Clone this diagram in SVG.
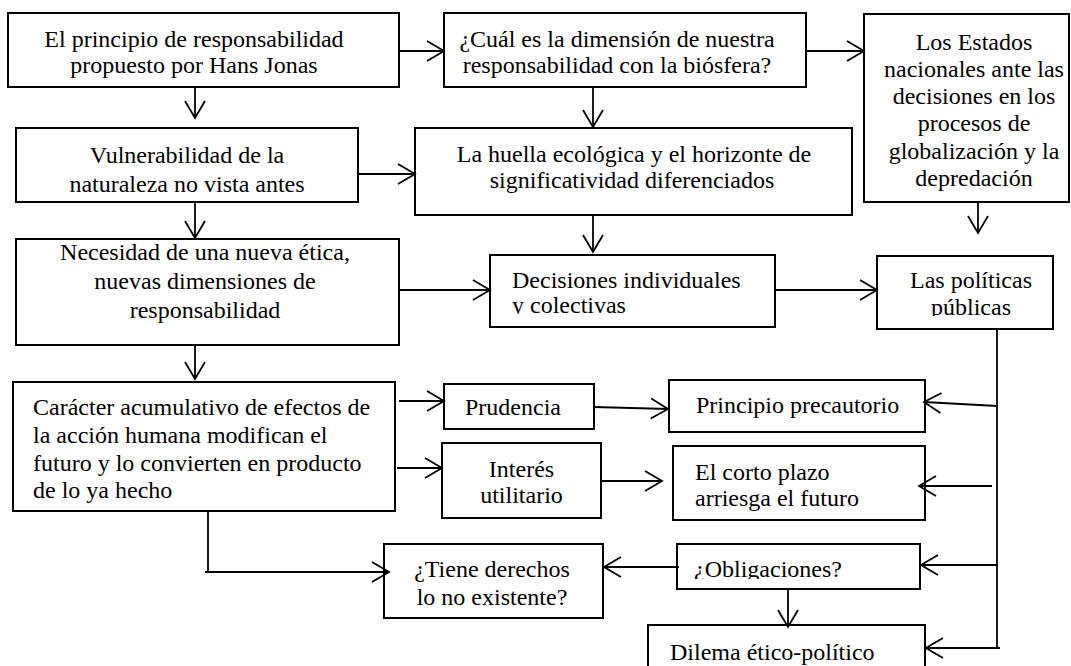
<svg xmlns="http://www.w3.org/2000/svg" width="1071" height="666" viewBox="0 0 1071 666">
<defs>
<style>
.box{fill:#fff;stroke:#000;stroke-width:2}
.t{font-family:"Liberation Serif","Times New Roman",serif;font-size:24px;fill:#000}
.c{text-anchor:middle}
.ln{fill:none;stroke:#000;stroke-width:1.8}
.ar{marker-end:url(#arr)}
</style>
<marker id="arr" markerUnits="userSpaceOnUse" viewBox="0 0 20 24" markerWidth="20" markerHeight="24" refX="18" refY="12" orient="auto">
<path d="M1,2 L18,12 L1,22" fill="none" stroke="#000" stroke-width="1.8"/>
</marker>
<clipPath id="clip7"><rect x="480" y="250" width="300" height="64"/></clipPath>
<clipPath id="clip8"><rect x="870" y="250" width="190" height="66"/></clipPath>
<clipPath id="clipO"><rect x="670" y="540" width="260" height="39"/></clipPath>
</defs>
<rect width="1071" height="666" fill="#fff"/>

<g id="n1"><rect class="box" x="8" y="13" width="391" height="74"/>
<text class="t c" x="194" y="47">El principio de responsabilidad</text>
<text class="t c" x="194" y="73">propuesto por Hans Jonas</text></g>

<g id="n2"><rect class="box" x="444" y="13" width="362" height="74"/>
<text class="t c" x="617" y="47">¿Cuál es la dimensión de nuestra</text>
<text class="t c" x="617" y="73">responsabilidad con la biósfera?</text></g>

<g id="n5"><rect class="box" x="864" y="14" width="205" height="188"/>
<text class="t c" x="974" y="50">Los Estados</text>
<text class="t c" x="974" y="77">nacionales ante las</text>
<text class="t c" x="974" y="104">decisiones en los</text>
<text class="t c" x="974" y="131">procesos de</text>
<text class="t c" x="974" y="159">globalización y la</text>
<text class="t c" x="974" y="186">depredación</text></g>

<g id="n3"><rect class="box" x="16" y="128" width="342" height="74"/>
<text class="t c" x="187" y="163">Vulnerabilidad de la</text>
<text class="t c" x="187" y="192">naturaleza no vista antes</text></g>

<g id="n4"><rect class="box" x="415" y="128" width="437" height="87"/>
<text class="t c" x="634" y="162">La huella ecológica y el horizonte de</text>
<text class="t c" x="632" y="188">significatividad diferenciados</text></g>

<g id="n6"><rect class="box" x="16" y="239" width="383" height="106"/>
<text class="t c" x="205" y="260">Necesidad de una nueva ética,</text>
<text class="t c" x="205" y="289">nuevas dimensiones de</text>
<text class="t c" x="205" y="318">responsabilidad</text></g>

<g id="n7"><rect class="box" x="490" y="255" width="285" height="72"/>
<g clip-path="url(#clip7)">
<text class="t" x="512" y="288">Decisiones individuales</text>
<text class="t" x="512" y="313">y colectivas</text></g></g>

<g id="n8"><rect class="box" x="877" y="256" width="176" height="73"/>
<g clip-path="url(#clip8)">
<text class="t c" x="971" y="288">Las políticas</text>
<text class="t c" x="971" y="315">públicas</text></g></g>

<g id="n9"><rect class="box" x="13" y="382" width="382" height="129"/>
<text class="t" x="33" y="415">Carácter acumulativo de efectos de</text>
<text class="t" x="33" y="443">la acción humana modifican el</text>
<text class="t" x="33" y="471">futuro y lo convierten en producto</text>
<text class="t" x="33" y="498">de lo ya hecho</text></g>

<g id="n10"><rect class="box" x="444" y="384" width="150" height="45"/>
<text class="t" x="465" y="415">Prudencia</text></g>

<g id="n11"><rect class="box" x="669" y="380" width="256" height="52"/>
<text class="t" x="696" y="413">Principio precautorio</text></g>

<g id="n12"><rect class="box" x="442" y="443" width="159" height="75"/>
<text class="t c" x="521.5" y="477">Interés</text>
<text class="t c" x="521.5" y="503">utilitario</text></g>

<g id="n13"><rect class="box" x="673" y="446" width="252" height="74"/>
<text class="t" x="695" y="480">El corto plazo</text>
<text class="t" x="695" y="506">arriesga el futuro</text></g>

<g id="n14"><rect class="box" x="384" y="544" width="219" height="74"/>
<text class="t c" x="492" y="577">¿Tiene derechos</text>
<text class="t c" x="492" y="605">lo no existente?</text></g>

<g id="n15"><rect class="box" x="677" y="544" width="243" height="45"/>
<g clip-path="url(#clipO)"><text class="t" x="694" y="577">¿Obligaciones?</text></g></g>

<g id="n16"><rect class="box" x="648" y="625" width="277" height="60"/>
<text class="t" x="670" y="660">Dilema ético-político</text></g>

<g id="connectors">
<path class="ln ar" d="M399,51 L444,51"/>
<path class="ln ar" d="M806,51 L864,51"/>
<path class="ln ar" d="M195,87 L195,118"/>
<path class="ln ar" d="M593,87 L593,127"/>
<path class="ln ar" d="M358,174 L415,174"/>
<path class="ln ar" d="M195,202 L195,238"/>
<path class="ln ar" d="M593,215 L593,252"/>
<path class="ln ar" d="M978,202 L978,233"/>
<path class="ln ar" d="M399,290 L490,290"/>
<path class="ln ar" d="M775,290 L877,290"/>
<path class="ln ar" d="M195,345 L195,379"/>
<path class="ln ar" d="M399,401 L444,401"/>
<path class="ln ar" d="M594,407 L668,409"/>
<path class="ln ar" d="M397,468 L442,468"/>
<path class="ln ar" d="M601,481 L662,481"/>
<path class="ln" d="M997,329 L997,648"/>
<path class="ln ar" d="M997,406 L924,402"/>
<path class="ln ar" d="M992,486 L919,486"/>
<path class="ln ar" d="M997,565 L921,565"/>
<path class="ln ar" d="M1000,648 L926,648"/>
<path class="ln ar" d="M679,567 L604,567"/>
<path class="ln ar" d="M788,589 L788,627"/>
<path class="ln" d="M208,511 L208,572"/>
<path class="ln ar" d="M205,572 L389,572"/>
</g>
</svg>
